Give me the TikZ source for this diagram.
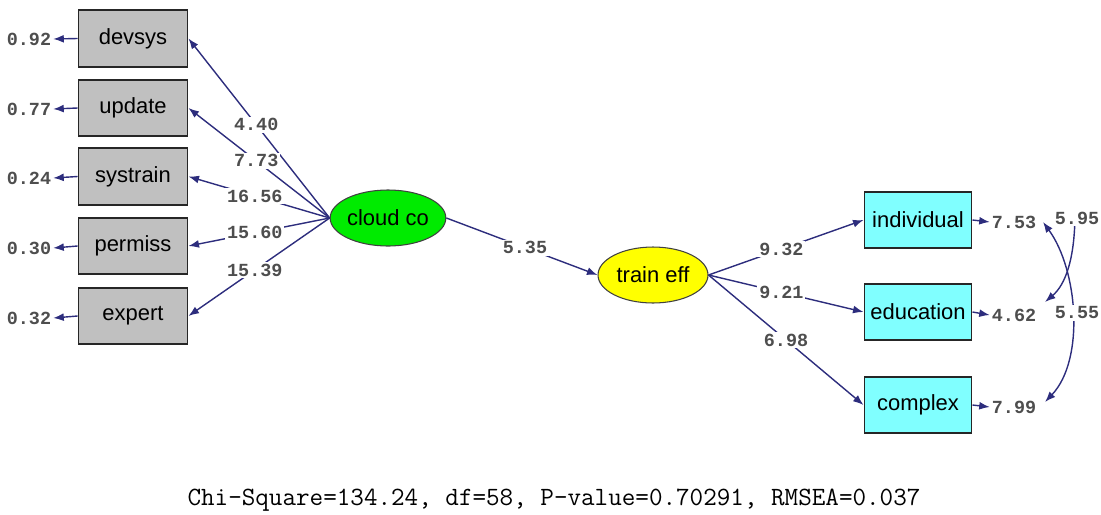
\documentclass[tikz,border=0pt]{standalone}
\usepackage{fontspec}
\setmainfont{Liberation Sans}
\setmonofont{Liberation Mono}
\newfontfamily\fitfont{Latin Modern Mono}
\usetikzlibrary{arrows.meta,shapes.geometric}
\definecolor{pathblue}{RGB}{45,45,125}
\definecolor{obsgray}{RGB}{192,192,192}
\definecolor{obscyan}{RGB}{128,255,255}
\definecolor{latgreen}{RGB}{0,235,0}
\definecolor{latyellow}{RGB}{255,255,0}
\definecolor{estgray}{RGB}{78,78,78}
\tikzset{
  obs/.style={draw=black!85,line width=1.1pt,minimum width=2.18cm,minimum height=1.13cm,inner sep=0pt,font=\fontsize{12.5}{14}\selectfont},
  lat/.style={ellipse,draw=black!75,line width=0.6pt,minimum width=2.2cm,minimum height=1.12cm,inner sep=0pt,font=\fontsize{12.5}{14}\selectfont},
  load/.style={draw=pathblue,line width=0.8pt,-{Latex[length=6pt,width=4.5pt]}},
  cov/.style={draw=pathblue,line width=0.8pt,{Latex[length=6pt,width=4.5pt]}-{Latex[length=6pt,width=4.5pt]}},
  est/.style={font=\ttfamily\bfseries\fontsize{10.5}{12}\selectfont,text=estgray,fill=white,inner sep=1pt},
}
\begin{document}
\begin{tikzpicture}[x=0.02cm,y=-0.02cm]
\useasboundingbox (0,0) rectangle (1101,514);
% observed x-variables
\node[obs,fill=obsgray] (devsys) at (133,38.5) {devsys};
\node[obs,fill=obsgray] (update) at (133,108) {update};
\node[obs,fill=obsgray] (systrain) at (133,176.5) {systrain};
\node[obs,fill=obsgray] (permiss) at (133,246) {permiss};
\node[obs,fill=obsgray] (expert) at (133,316) {expert};
% latent variables
\node[lat,fill=latgreen] (cloud) at (388,218) {cloud co};
\node[lat,fill=latyellow] (train) at (653,275) {train eff};
% observed y-variables
\node[obs,fill=obscyan,minimum width=2.14cm] (indiv) at (918,220) {individual};
\node[obs,fill=obscyan,minimum width=2.14cm] (educ) at (918,312) {education};
\node[obs,fill=obscyan,minimum width=2.14cm] (complex) at (918,405) {complex};
% error variances
\node[est] (e1) at (29,39) {0.92};
\node[est] (e2) at (29,109) {0.77};
\node[est] (e3) at (29,178) {0.24};
\node[est] (e4) at (29,248) {0.30};
\node[est] (e5) at (29,318) {0.32};
\node[est] (e6) at (1014,222) {7.53};
\node[est] (e7) at (1014,315) {4.62};
\node[est] (e8) at (1014,407) {7.99};
\foreach \v/\e in {devsys/e1,update/e2,systrain/e3,permiss/e4,expert/e5}
  \draw[load] (\v.west) -- (\e.east);
\foreach \v/\e in {indiv/e6,educ/e7,complex/e8}
  \draw[load] (\v.east) -- (\e.west);
% loadings
\draw[load] (cloud.west) -- node[est,pos=0.52]{4.40} (devsys.east);
\draw[load] (cloud.west) -- node[est,pos=0.52]{7.73} (update.east);
\draw[load] (cloud.west) -- node[est,pos=0.53]{16.56} (systrain.east);
\draw[load] (cloud.west) -- node[est,pos=0.53]{15.60} (permiss.east);
\draw[load] (cloud.west) -- node[est,pos=0.53]{15.39} (expert.east);
\draw[load] (cloud.east) -- node[est,pos=0.52]{5.35} (train.west);
\draw[load] (train.east) -- node[est,pos=0.47]{9.32} (indiv.west);
\draw[load] (train.east) -- node[est,pos=0.47]{9.21} (educ.west);
\draw[load] (train.east) -- node[est,pos=0.5]{6.98} (complex.west);
% error covariances
\coordinate (c1) at (1043,222);
\coordinate (c2) at (1045,402);
\coordinate (c3) at (1075,212);
\coordinate (c4) at (1045,302);
\draw[cov] (c1) .. controls (1078,270) and (1085,360) .. (c2);
\draw[load] (c3) .. controls (1075,260) and (1065,285) .. (c4);
\node[est] (r1) at (1077,218) {5.95};
\node[est] (r2) at (1077,313) {5.55};
% fit statistics
\node[font=\fitfont\fontsize{15}{17}\selectfont] (fit) at (554,500) {Chi-Square=134.24, df=58, P-value=0.70291, RMSEA=0.037};
\end{tikzpicture}
\end{document}
